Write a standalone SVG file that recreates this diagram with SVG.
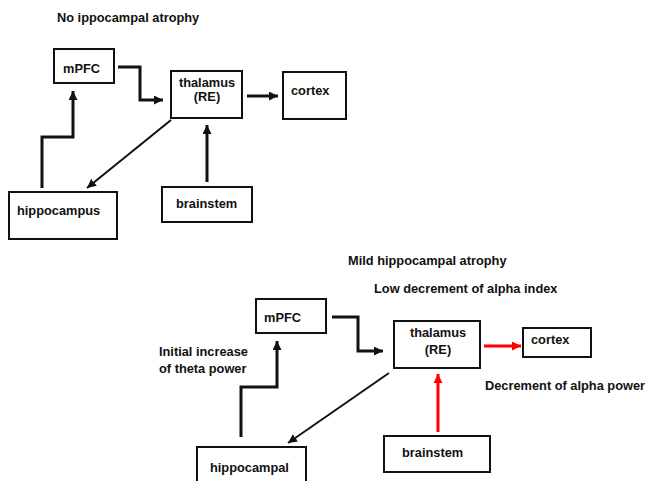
<svg xmlns="http://www.w3.org/2000/svg" width="651" height="481" viewBox="0 0 651 481">
<style>
text{font-family:"Liberation Sans",Arial,sans-serif;font-weight:bold;font-size:12.8px;fill:#111}
.box{fill:#fff;stroke:#111;stroke-width:2}
.c{fill:none;stroke:#111;stroke-width:3}
.thin{stroke-width:2}
.red{stroke:#ff0000}
</style>
<defs>
<marker id="ah" markerUnits="userSpaceOnUse" markerWidth="9" markerHeight="9" viewBox="0 0 10 10" refX="10" refY="5" orient="auto"><path d="M0,0 L10,5 L0,10 z" fill="#111"/></marker>
<marker id="ahr" markerUnits="userSpaceOnUse" markerWidth="9" markerHeight="9" viewBox="0 0 10 10" refX="10" refY="5" orient="auto"><path d="M0,0 L10,5 L0,10 z" fill="#ff0000"/></marker>
</defs>
<rect width="651" height="481" fill="#fff"/>
<text x="57" y="22">No ippocampal atrophy</text>
<text x="348" y="265">Mild hippocampal atrophy</text>
<text x="374" y="293">Low decrement of alpha index</text>
<text x="159" y="356">Initial increase</text>
<text x="159" y="373">of theta power</text>
<text x="485" y="390">Decrement of alpha power</text>
<g id="connectors">
<polyline class="c" points="118,67 140,67 140,100 163,100" marker-end="url(#ah)"/>
<line class="c" x1="247" y1="96" x2="278" y2="96" marker-end="url(#ah)"/>
<polyline class="c" points="42,188 42,137 73,137 73,91" marker-end="url(#ah)"/>
<line class="c thin" x1="171" y1="120" x2="87" y2="188" marker-end="url(#ah)"/>
<line class="c" x1="207" y1="182" x2="207" y2="125" marker-end="url(#ah)"/>
<polyline class="c" points="332,317 358,317 358,351 383,351" marker-end="url(#ah)"/>
<polyline class="c" points="241,437 241,387 277,387 277,341" marker-end="url(#ah)"/>
<line class="c thin" x1="389" y1="373" x2="288" y2="443" marker-end="url(#ah)"/>
<line class="c red" x1="484" y1="346" x2="521" y2="346" marker-end="url(#ahr)"/>
<line class="c red" x1="438" y1="432" x2="438" y2="374" marker-end="url(#ahr)"/>
</g>
<g id="mpfc1"><rect class="box" x="54" y="49" width="60" height="34"/><text x="63" y="73">mPFC</text></g>
<g id="thalamus1"><rect class="box" x="171" y="71" width="71" height="47"/><text x="207" y="87" text-anchor="middle">thalamus</text><text x="207" y="101" text-anchor="middle">(RE)</text></g>
<g id="cortex1"><rect class="box" x="283" y="72" width="63" height="47"/><text x="291" y="95">cortex</text></g>
<g id="hippocampus1"><rect class="box" x="9" y="192" width="108" height="47"/><text x="17" y="215">hippocampus</text></g>
<g id="brainstem1"><rect class="box" x="162" y="187" width="90" height="35"/><text x="176" y="208">brainstem</text></g>
<g id="mpfc2"><rect class="box" x="256" y="299" width="70" height="34"/><text x="264" y="322">mPFC</text></g>
<g id="thalamus2"><rect class="box" x="394" y="321" width="86" height="47"/><text x="438" y="337" text-anchor="middle">thalamus</text><text x="438" y="354" text-anchor="middle">(RE)</text></g>
<g id="cortex2"><rect class="box" x="523" y="328" width="68" height="29"/><text x="531" y="344">cortex</text></g>
<g id="hippocampal2"><rect class="box" x="197" y="447" width="109" height="40"/><text x="210" y="472">hippocampal</text></g>
<g id="brainstem2"><rect class="box" x="384" y="436" width="106" height="36"/><text x="402" y="457">brainstem</text></g>
</svg>
